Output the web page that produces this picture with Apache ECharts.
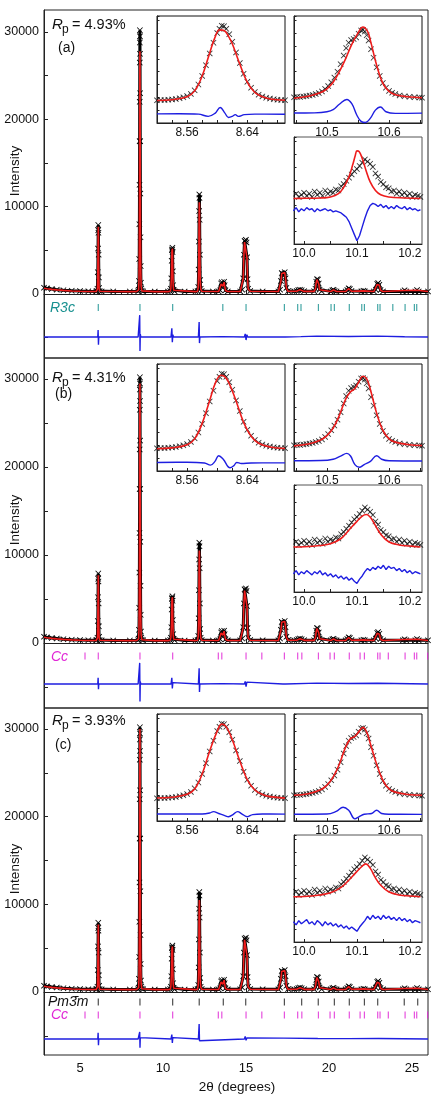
<!DOCTYPE html>
<html>
<head>
<meta charset="utf-8">
<script src="https://cdn.jsdelivr.net/npm/echarts@6/dist/echarts.min.js"></script>
<style>
  html, body { margin: 0; padding: 0; background: #fff; }
  #chart { width: 432px; height: 1102px; }
</style>
</head>
<body>
<div id="chart"></div>
<script>
// ---------- data: main patterns (2theta, counts) ----------
const obsMain = [[2.83,720],[3.0,650],[3.3,570],[3.6,500],[4.0,430],[4.5,370],[5.0,330],[5.5,310],[5.97,300],[6.02,330],[6.05,600],[6.07,2500],[6.085,5200],[6.095,7300],[6.1,7900],[6.11,7000],[6.12,4500],[6.135,1900],[6.15,700],[6.18,340],[6.3,300],[7.0,290],[8.0,285],[8.5,310],[8.53,500],[8.55,1500],[8.565,4000],[8.575,8000],[8.583,12500],[8.59,17500],[8.595,22000],[8.6,26500],[8.603,28800],[8.606,30200],[8.61,29500],[8.614,27500],[8.62,23000],[8.627,17500],[8.635,11500],[8.645,6500],[8.655,3200],[8.67,1300],[8.69,600],[8.72,380],[8.8,300],[9.5,280],[10.3,280],[10.43,330],[10.47,600],[10.5,1800],[10.52,3800],[10.535,5000],[10.55,5100],[10.565,5300],[10.575,4800],[10.59,2600],[10.61,1000],[10.64,450],[10.7,310],[11.3,280],[11.95,285],[12.08,330],[12.12,800],[12.145,2800],[12.16,6000],[12.175,9500],[12.185,11400],[12.195,11000],[12.205,8500],[12.22,4500],[12.24,1600],[12.27,600],[12.33,340],[13.0,290],[13.35,290],[13.45,420],[13.5,1200],[13.54,1350],[13.6,900],[13.64,1100],[13.68,1400],[13.71,1000],[13.76,420],[13.9,300],[14.65,300],[14.77,500],[14.83,1800],[14.87,4500],[14.91,6100],[14.95,6000],[14.99,6200],[15.03,5900],[15.06,4200],[15.09,1700],[15.13,600],[15.25,330],[16.0,300],[16.95,300],[17.05,500],[17.1,1500],[17.15,2400],[17.2,2300],[17.27,2200],[17.33,2500],[17.38,1800],[17.43,700],[17.53,330],[17.9,310],[18.05,330],[18.15,450],[18.25,500],[18.35,430],[18.5,320],[19.1,320],[19.18,600],[19.23,1400],[19.27,1700],[19.33,1650],[19.38,1200],[19.43,500],[19.55,320],[20.1,300],[20.2,420],[20.27,480],[20.34,350],[20.45,300],[21.0,300],[21.1,450],[21.18,650],[21.25,560],[21.35,330],[21.95,310],[22.07,380],[22.15,310],[22.7,300],[22.82,500],[22.9,1150],[22.96,1250],[23.03,1050],[23.1,450],[23.25,300],[24.45,300],[24.55,420],[24.65,300],[25.2,300],[25.3,450],[25.4,300],[25.96,300]];

// calculated profile, everything except the 110 peak (which differs per fit)
const calcBase = [[2.83,660],[3.0,600],[3.3,530],[3.6,470],[4.0,410],[4.5,350],[5.0,310],[5.5,290],[5.97,285],[6.02,310],[6.05,560],[6.07,2400],[6.085,5000],[6.095,7100],[6.102,7700],[6.11,6900],[6.12,4400],[6.135,1800],[6.15,650],[6.18,320],[6.3,285],[8.0,275],[8.4,280],[8.8,285],[9.5,270],[10.3,270],[10.43,310],[10.47,580],[10.5,1750],[10.52,3700],[10.535,4900],[10.55,5050],[10.565,5200],[10.575,4700],[10.59,2500],[10.61,950],[10.64,430],[10.7,290],[11.95,275],[12.08,310],[12.12,760],[12.145,2700],[12.16,5800],[12.175,9100],[12.187,10500],[12.195,10200],[12.205,8000],[12.22,4300],[12.24,1500],[12.27,560],[12.33,320],[13.35,280],[13.45,400],[13.5,1150],[13.54,1300],[13.6,880],[13.64,1060],[13.68,1350],[13.71,950],[13.76,400],[13.9,285],[14.65,285],[14.77,480],[14.83,1750],[14.87,4400],[14.91,5950],[14.95,5900],[14.99,6050],[15.03,5800],[15.06,4100],[15.09,1650],[15.13,570],[15.25,310],[16.95,285],[17.05,480],[17.1,1450],[17.15,2350],[17.2,2250],[17.27,2150],[17.33,2450],[17.38,1750],[17.43,680],[17.53,310],[18.05,310],[18.15,430],[18.25,480],[18.35,410],[18.5,300],[19.1,300],[19.18,580],[19.23,1350],[19.27,1650],[19.33,1600],[19.38,1150],[19.43,480],[19.55,300],[20.1,285],[20.2,400],[20.27,460],[20.34,330],[20.45,285],[21.0,285],[21.1,430],[21.18,620],[21.25,540],[21.35,310],[22.07,360],[22.7,285],[22.82,480],[22.9,1100],[22.96,1200],[23.03,1000],[23.1,430],[23.25,285],[24.55,400],[24.65,285],[25.3,430],[25.4,285],[25.96,285]];
const peak110A = [[8.5,290],[8.53,470],[8.55,1400],[8.565,3800],[8.575,7600],[8.585,13000],[8.595,20500],[8.603,26500],[8.607,27800],[8.612,26500],[8.62,21000],[8.63,13500],[8.645,6000],[8.66,2500],[8.68,900],[8.72,360]];
const peak110B = [[8.5,290],[8.53,480],[8.55,1450],[8.565,3900],[8.575,7800],[8.585,13500],[8.595,21500],[8.603,28000],[8.607,29500],[8.612,28000],[8.62,22000],[8.63,14000],[8.645,6200],[8.66,2600],[8.68,950],[8.72,370]];
const peak110C = [[8.5,300],[8.53,490],[8.55,1480],[8.565,3950],[8.575,7900],[8.585,13800],[8.595,22000],[8.603,28600],[8.607,30000],[8.612,28600],[8.62,22500],[8.63,14300],[8.645,6300],[8.66,2650],[8.68,980],[8.72,375]];

// difference curves (offset below zero as in the figure)
const diffA = [[2.83,-4924],[4,-4930],[5.9,-4920],[6.07,-4910],[6.09,-4120],[6.11,-5820],[6.13,-4930],[7.5,-4915],[8.5,-4925],[8.57,-4700],[8.595,-2420],[8.612,-6520],[8.63,-4600],[8.66,-4920],[9.5,-4930],[10.48,-4920],[10.53,-3920],[10.56,-5520],[10.59,-4650],[10.63,-4925],[11.3,-4915],[12.13,-4925],[12.175,-3220],[12.195,-5620],[12.22,-4930],[13.55,-4880],[13.65,-5000],[14.9,-4920],[14.95,-4570],[15.0,-5270],[15.05,-4650],[15.1,-4920],[16.0,-4930],[17.22,-4920],[17.27,-4720],[17.32,-5120],[17.37,-4925],[18.3,-4880],[18.35,-4960],[19.27,-4820],[19.32,-5040],[19.37,-4925],[21.18,-4860],[21.23,-4980],[22.93,-4820],[22.98,-5030],[23.03,-4925],[24.55,-4900],[25.96,-4920]];
const diffB = [[2.83,-4660],[5.9,-4655],[6.07,-4660],[6.09,-3960],[6.11,-5260],[6.13,-4660],[8.5,-4660],[8.57,-4450],[8.595,-2260],[8.612,-6660],[8.63,-4400],[8.66,-4660],[10.48,-4660],[10.53,-3960],[10.56,-5160],[10.59,-4500],[10.63,-4660],[12.13,-4660],[12.175,-2860],[12.195,-5560],[12.22,-4660],[13.55,-4620],[13.65,-4720],[14.9,-4660],[14.95,-4360],[15.0,-4960],[15.05,-4450],[15.1,-4660],[17.22,-4660],[17.27,-4510],[17.32,-4810],[17.37,-4660],[19.27,-4560],[19.32,-4760],[21.18,-4600],[21.23,-4700],[22.93,-4580],[22.98,-4760],[25.96,-4660]];
const diffC = [[2.83,-5360],[5.9,-5360],[6.07,-5360],[6.09,-4660],[6.11,-6060],[6.13,-5360],[8.5,-5360],[8.58,-5200],[8.595,-4560],[8.612,-6360],[8.63,-5200],[8.66,-5360],[10.48,-5360],[10.53,-4860],[10.56,-5810],[10.59,-5200],[10.63,-5360],[12.13,-5360],[12.175,-3660],[12.195,-5560],[12.22,-5360],[14.9,-5360],[14.95,-5060],[15.0,-5510],[15.05,-5250],[15.1,-5360],[17.27,-5260],[17.32,-5420],[19.32,-5300],[21.18,-5320],[22.98,-5300],[25.96,-5360]];

// reflection positions
const ticksR3c = [6.10, 8.61, 10.58, 13.6, 15.0, 17.31, 18.11, 18.31, 19.36, 20.12, 20.32, 21.22, 21.97, 22.13, 22.93, 23.07, 23.84, 24.58, 25.14, 25.28];
const ticksCc = [5.3, 6.10, 8.61, 10.58, 13.33, 13.54, 15.0, 15.95, 17.31, 18.11, 18.36, 19.36, 20.06, 20.32, 21.22, 21.87, 22.13, 22.93, 23.07, 23.57, 24.58, 25.14, 25.28, 25.94];
const ticksPm3m = [6.10, 8.61, 10.58, 12.18, 13.63, 14.98, 17.31, 18.35, 19.35, 20.32, 21.22, 22.13, 22.93, 24.53, 25.34];

const mainXTicks = [5, 7.5, 10, 12.5, 15, 17.5, 20, 22.5, 25];
const mainXLabels = [5, 10, 15, 20, 25];
const mainYTicks = [-5000, 0, 5000, 10000, 15000, 20000, 25000, 30000];
const mainYLabels = [0, 10000, 20000, 30000];
const rpValues = ['4.93%', '4.31%', '3.93%'];

// ---------- data: insets (2theta, normalised height) ----------
const obs110 = [[8.520,0.212],[8.525,0.215],[8.530,0.214],[8.535,0.218],[8.540,0.22],[8.545,0.224],[8.550,0.232],[8.555,0.24],[8.560,0.252],[8.565,0.272],[8.570,0.305],[8.575,0.36],[8.580,0.44],[8.585,0.54],[8.590,0.65],[8.595,0.75],[8.600,0.84],[8.603,0.88],[8.606,0.91],[8.609,0.905],[8.612,0.88],[8.616,0.83],[8.620,0.76],[8.625,0.66],[8.630,0.56],[8.635,0.46],[8.640,0.385],[8.645,0.33],[8.650,0.29],[8.655,0.265],[8.660,0.248],[8.665,0.236],[8.670,0.228],[8.675,0.222],[8.680,0.218],[8.685,0.215],[8.690,0.213]];
const obs111 = [[10.447,0.24],[10.452,0.245],[10.457,0.243],[10.462,0.248],[10.467,0.252],[10.472,0.256],[10.477,0.262],[10.482,0.27],[10.487,0.28],[10.492,0.295],[10.497,0.318],[10.502,0.345],[10.507,0.38],[10.512,0.425],[10.517,0.48],[10.522,0.55],[10.527,0.63],[10.531,0.7],[10.535,0.75],[10.539,0.775],[10.543,0.785],[10.547,0.8],[10.551,0.835],[10.555,0.865],[10.558,0.87],[10.561,0.855],[10.564,0.82],[10.567,0.77],[10.571,0.69],[10.575,0.61],[10.58,0.52],[10.585,0.44],[10.59,0.375],[10.595,0.33],[10.6,0.3],[10.605,0.283],[10.61,0.27],[10.617,0.258],[10.625,0.25],[10.633,0.245],[10.641,0.241],[10.649,0.238],[10.653,0.237]];
const obs311 = [[9.98,0.45],[9.985,0.47],[9.99,0.44],[9.995,0.46],[10.0,0.48],[10.005,0.45],[10.01,0.47],[10.015,0.44],[10.02,0.49],[10.025,0.46],[10.03,0.48],[10.035,0.45],[10.04,0.5],[10.045,0.47],[10.05,0.49],[10.055,0.48],[10.06,0.51],[10.065,0.5],[10.07,0.54],[10.075,0.56],[10.08,0.59],[10.085,0.62],[10.09,0.65],[10.095,0.68],[10.1,0.7],[10.105,0.73],[10.11,0.76],[10.115,0.79],[10.12,0.77],[10.125,0.75],[10.13,0.72],[10.135,0.66],[10.14,0.63],[10.145,0.58],[10.15,0.56],[10.155,0.53],[10.16,0.52],[10.165,0.49],[10.17,0.5],[10.175,0.47],[10.18,0.49],[10.185,0.46],[10.19,0.48],[10.195,0.45],[10.2,0.47],[10.205,0.44],[10.21,0.46],[10.215,0.45],[10.22,0.44]];

const calc110A = [[8.52,0.21],[8.54,0.218],[8.56,0.245],[8.57,0.30],[8.58,0.44],[8.59,0.655],[8.597,0.8],[8.603,0.87],[8.609,0.865],[8.615,0.81],[8.62,0.74],[8.63,0.55],[8.64,0.38],[8.65,0.285],[8.66,0.245],[8.67,0.225],[8.69,0.212]];
const calc110B = [[8.52,0.208],[8.54,0.216],[8.56,0.245],[8.57,0.30],[8.58,0.445],[8.59,0.66],[8.598,0.83],[8.605,0.895],[8.611,0.875],[8.617,0.8],[8.625,0.655],[8.635,0.455],[8.645,0.325],[8.655,0.26],[8.67,0.225],[8.69,0.21]];
const calc110C = [[8.52,0.215],[8.54,0.222],[8.56,0.25],[8.57,0.30],[8.58,0.44],[8.59,0.655],[8.6,0.84],[8.606,0.905],[8.612,0.88],[8.62,0.76],[8.63,0.56],[8.64,0.385],[8.65,0.29],[8.66,0.248],[8.67,0.228],[8.69,0.214]];
const calc111A = [[10.447,0.232],[10.47,0.25],[10.49,0.285],[10.5,0.32],[10.51,0.38],[10.52,0.48],[10.53,0.6],[10.54,0.735],[10.55,0.84],[10.558,0.897],[10.565,0.86],[10.57,0.77],[10.58,0.54],[10.59,0.37],[10.6,0.295],[10.61,0.265],[10.63,0.245],[10.653,0.236]];
const calc111B = [[10.447,0.235],[10.47,0.252],[10.49,0.29],[10.5,0.33],[10.51,0.4],[10.52,0.52],[10.53,0.67],[10.538,0.74],[10.545,0.77],[10.552,0.84],[10.558,0.885],[10.564,0.86],[10.57,0.76],[10.58,0.54],[10.59,0.38],[10.6,0.3],[10.61,0.27],[10.63,0.248],[10.653,0.238]];
const calc111C = [[10.447,0.24],[10.47,0.255],[10.49,0.292],[10.5,0.335],[10.51,0.41],[10.52,0.53],[10.53,0.69],[10.538,0.77],[10.545,0.79],[10.552,0.84],[10.558,0.875],[10.564,0.83],[10.57,0.72],[10.58,0.53],[10.59,0.38],[10.6,0.3],[10.61,0.27],[10.63,0.248],[10.653,0.24]];
const calc311A = [[9.98,0.425],[10.0,0.427],[10.03,0.43],[10.05,0.44],[10.065,0.47],[10.075,0.53],[10.085,0.63],[10.092,0.74],[10.097,0.83],[10.1,0.87],[10.104,0.865],[10.11,0.8],[10.117,0.69],[10.125,0.58],[10.135,0.5],[10.145,0.46],[10.16,0.44],[10.19,0.43],[10.22,0.425]];
const calc311B = [[9.98,0.42],[10.0,0.423],[10.03,0.435],[10.05,0.45],[10.07,0.5],[10.085,0.58],[10.1,0.66],[10.11,0.71],[10.118,0.725],[10.125,0.7],[10.135,0.62],[10.145,0.54],[10.16,0.47],[10.18,0.44],[10.2,0.43],[10.22,0.42]];
const calc311C = [[9.98,0.423],[10.0,0.425],[10.03,0.44],[10.05,0.46],[10.07,0.51],[10.085,0.58],[10.1,0.66],[10.11,0.71],[10.117,0.73],[10.125,0.69],[10.135,0.6],[10.145,0.53],[10.16,0.47],[10.18,0.44],[10.2,0.43],[10.22,0.423]];

const diff110A = [[8.52,0.085],[8.55,0.087],[8.575,0.083],[8.588,0.062],[8.597,0.09],[8.604,0.145],[8.61,0.095],[8.615,0.052],[8.62,0.062],[8.624,0.078],[8.628,0.062],[8.636,0.078],[8.65,0.083],[8.69,0.082]];
const diff110B = [[8.52,0.08],[8.56,0.082],[8.583,0.075],[8.591,0.055],[8.597,0.09],[8.602,0.143],[8.608,0.11],[8.617,0.03],[8.622,0.05],[8.626,0.08],[8.632,0.07],[8.645,0.075],[8.69,0.076]];
const diff110C = [[8.52,0.065],[8.58,0.066],[8.59,0.075],[8.595,0.088],[8.602,0.07],[8.61,0.05],[8.615,0.04],[8.621,0.06],[8.627,0.088],[8.633,0.065],[8.64,0.04],[8.647,0.06],[8.66,0.065],[8.69,0.064]];
const diff111A = [[10.447,0.093],[10.48,0.095],[10.5,0.105],[10.51,0.125],[10.52,0.175],[10.532,0.22],[10.54,0.18],[10.548,0.075],[10.555,0.015],[10.562,0.005],[10.57,0.045],[10.578,0.12],[10.586,0.15],[10.595,0.105],[10.61,0.09],[10.653,0.092]];
const diff111B = [[10.447,0.096],[10.49,0.098],[10.51,0.11],[10.522,0.14],[10.532,0.165],[10.538,0.14],[10.545,0.06],[10.552,0.035],[10.56,0.06],[10.57,0.09],[10.58,0.143],[10.588,0.11],[10.6,0.096],[10.653,0.094]];
const diff111C = [[10.447,0.063],[10.5,0.065],[10.515,0.09],[10.526,0.128],[10.535,0.1],[10.545,0.02],[10.552,0.04],[10.56,0.063],[10.572,0.07],[10.58,0.1],[10.588,0.07],[10.6,0.063],[10.653,0.062]];
const diff311A = [[9.98,0.31],[9.985,0.34],[9.99,0.3],[9.995,0.33],[10.0,0.31],[10.005,0.34],[10.01,0.32],[10.015,0.33],[10.02,0.3],[10.025,0.33],[10.03,0.31],[10.035,0.32],[10.04,0.33],[10.045,0.31],[10.05,0.32],[10.055,0.3],[10.06,0.31],[10.065,0.3],[10.07,0.29],[10.075,0.27],[10.08,0.25],[10.085,0.21],[10.09,0.15],[10.095,0.09],[10.1,0.03],[10.105,0.08],[10.11,0.16],[10.115,0.24],[10.12,0.31],[10.125,0.36],[10.13,0.38],[10.135,0.37],[10.14,0.35],[10.145,0.37],[10.15,0.34],[10.155,0.36],[10.16,0.33],[10.165,0.35],[10.17,0.33],[10.175,0.36],[10.18,0.34],[10.185,0.33],[10.19,0.35],[10.195,0.32],[10.2,0.34],[10.205,0.32],[10.21,0.33],[10.215,0.31],[10.22,0.32]];
const diff311B = [[9.98,0.17],[9.985,0.2],[9.99,0.16],[9.995,0.19],[10.0,0.17],[10.005,0.2],[10.01,0.18],[10.015,0.16],[10.02,0.19],[10.025,0.17],[10.03,0.2],[10.035,0.16],[10.04,0.18],[10.045,0.15],[10.05,0.17],[10.055,0.14],[10.06,0.16],[10.065,0.13],[10.07,0.15],[10.075,0.12],[10.08,0.14],[10.085,0.11],[10.09,0.13],[10.095,0.1],[10.1,0.08],[10.105,0.12],[10.11,0.15],[10.115,0.19],[10.12,0.22],[10.125,0.2],[10.13,0.23],[10.135,0.21],[10.14,0.24],[10.145,0.22],[10.15,0.25],[10.155,0.21],[10.16,0.24],[10.165,0.22],[10.17,0.23],[10.175,0.2],[10.18,0.22],[10.185,0.19],[10.19,0.21],[10.195,0.18],[10.2,0.2],[10.205,0.17],[10.21,0.19],[10.215,0.18],[10.22,0.17]];
const diff311C = [[9.98,0.19],[9.985,0.16],[9.99,0.2],[9.995,0.17],[10.0,0.19],[10.005,0.21],[10.01,0.17],[10.015,0.19],[10.02,0.16],[10.025,0.2],[10.03,0.18],[10.035,0.15],[10.04,0.19],[10.045,0.16],[10.05,0.18],[10.055,0.15],[10.06,0.17],[10.065,0.14],[10.07,0.16],[10.075,0.13],[10.08,0.15],[10.085,0.12],[10.09,0.14],[10.095,0.12],[10.1,0.1],[10.105,0.14],[10.11,0.17],[10.115,0.2],[10.12,0.24],[10.125,0.21],[10.13,0.25],[10.135,0.22],[10.14,0.24],[10.145,0.21],[10.15,0.25],[10.155,0.22],[10.16,0.24],[10.165,0.21],[10.17,0.23],[10.175,0.2],[10.18,0.23],[10.185,0.2],[10.19,0.22],[10.195,0.19],[10.2,0.21],[10.205,0.18],[10.21,0.2],[10.215,0.19],[10.22,0.18]];

const tk110A = [8.623];
const tk111A = [10.522, 10.557];
const tk311A = [10.106];
const tk110B = [8.596, 8.614, 8.632];
const tk111B = [10.526];
const tk311B = [10.092, 10.099, 10.107, 10.118];
const tk110C = [8.595, 8.615];
const tk110Cp = [8.635];
const tk111C = [10.526, 10.538, 10.564];
const tk111Cp = [10.538];
const tk311C = [10.09, 10.098, 10.106, 10.118];

const insetRange = [[8.52, 8.69], [10.447, 10.653], [9.981, 10.223]];
const insetLabels = [[8.56, 8.64], [10.5, 10.6], [10.0, 10.1, 10.2]];
const insetTickVals = [[8.54, 8.56, 8.58, 8.6, 8.62, 8.64, 8.66, 8.68], [10.45, 10.5, 10.55, 10.6, 10.65], [10.0, 10.05, 10.1, 10.15, 10.2]];
const insetNames = ['110', '111', '1/2(311)'];

// ---------- layout / style ----------
const FONT = '"Liberation Sans", Arial, sans-serif';
const RED = '#ee1c1c', BLUE = '#1e1ee0', TEAL = '#17908f', MAG = '#e026d6', GREY = '#8a8a8a';
const CROSS = 'path://M0,1L1,0L5,4L9,0L10,1L6,5L10,9L9,10L5,6L1,10L0,9L4,5Z';
const panelTop = [10, 358, 708];
const panelH = [348, 350, 347];
const yRange = [[-7328, 32519], [-7386, 32386], [-7186, 32395]];
const insetLeft = [157, 294, 294];
const insetDy = [6, 6, 127];

const panels = [
  { peak: peak110A, diff: diffA, rows: [{ x: ticksR3c, y: -1546, c: TEAL }],
    calc: [calc110A, calc111A, calc311A], idiff: [diff110A, diff111A, diff311A],
    itk: [[{ x: tk110A, y: 0.2, c: TEAL }], [{ x: tk111A, y: 0.25, c: TEAL }], [{ x: tk311A, y: 0.38, c: TEAL }]] },
  { peak: peak110B, diff: diffB, rows: [{ x: ticksCc, y: -1477, c: MAG }],
    calc: [calc110B, calc111B, calc311B], idiff: [diff110B, diff111B, diff311B],
    itk: [[{ x: tk110B, y: 0.165, c: MAG }], [{ x: tk111B, y: 0.24, c: MAG }], [{ x: tk311B, y: 0.35, c: MAG }]] },
  { peak: peak110C, diff: diffC, rows: [{ x: ticksPm3m, y: -1141, c: '#222' }, { x: ticksCc, y: -2624, c: MAG }],
    calc: [calc110C, calc111C, calc311C], idiff: [diff110C, diff111C, diff311C],
    itk: [[{ x: tk110C, y: 0.14, c: MAG }, { x: tk110Cp, y: 0.14, c: GREY }],
          [{ x: tk111C, y: 0.195, c: MAG }, { x: tk111Cp, y: 0.295, c: GREY }],
          [{ x: tk311C, y: 0.385, c: MAG }]] }
];

const grids = [], xAxes = [], yAxes = [], series = [], graphics = [];

function addGrid(g, xa, ya) {
  const i = grids.length;
  grids.push(Object.assign({ outerBoundsMode: 'none', containLabel: false }, g));
  xAxes.push(Object.assign({ gridIndex: i }, xa));
  yAxes.push(Object.assign({ gridIndex: i }, ya));
  return i;
}

function text(str, x, y, size, opt) {
  opt = opt || {};
  graphics.push({
    type: 'text', x: x, y: y, rotation: opt.rot || 0, silent: true,
    style: {
      text: str, fill: opt.color || '#111',
      font: (opt.italic ? 'italic ' : '') + size + 'px ' + FONT,
      textAlign: opt.align || 'left', textVerticalAlign: 'middle',
      align: opt.align || 'left', verticalAlign: 'middle'
    }
  });
}

function tickRow(gi, row, h) {
  series.push({
    type: 'scatter', xAxisIndex: gi, yAxisIndex: gi, silent: true, z: 4,
    data: row.x.map(v => [v, row.y]), symbol: 'rect', symbolSize: [1.2, h],
    itemStyle: { color: row.c }
  });
}

const axisLine = { show: true, lineStyle: { color: '#222', width: 1 } };

panels.forEach((p, k) => {
  const top = panelTop[k];
  // ---- main panel ----
  const gi = addGrid(
    { left: 44, top: top, width: 384, height: panelH[k], show: true, borderColor: '#222', borderWidth: 1 },
    { type: 'value', min: 2.83, max: 25.96, axisLine: axisLine,
      axisTick: { inside: true, length: 4, customValues: mainXTicks, lineStyle: { color: '#222' } },
      axisLabel: { show: k === 2, customValues: mainXLabels, fontSize: 13, color: '#111', margin: 7, fontFamily: FONT },
      splitLine: { show: false } },
    { type: 'value', min: yRange[k][0], max: yRange[k][1], axisLine: axisLine,
      axisTick: { inside: true, length: 4, customValues: mainYTicks, lineStyle: { color: '#222' } },
      axisLabel: { customValues: mainYLabels, formatter: v => String(v), fontSize: 12.5, color: '#111', margin: 5, fontFamily: FONT },
      splitLine: { show: false } }
  );
  const calc = calcBase.concat(p.peak).sort((a, b) => a[0] - b[0]);
  series.push({ type: 'line', xAxisIndex: gi, yAxisIndex: gi, data: obsMain, silent: true, z: 2,
    symbol: CROSS, symbolSize: 6, showSymbol: true, itemStyle: { color: '#000' },
    lineStyle: { color: '#000', width: 3 } });
  series.push({ type: 'line', xAxisIndex: gi, yAxisIndex: gi, data: calc, silent: true, z: 3,
    symbol: 'none', lineStyle: { color: RED, width: 1.6 } });
  series.push({ type: 'line', xAxisIndex: gi, yAxisIndex: gi, data: p.diff, silent: true, z: 3,
    symbol: 'none', lineStyle: { color: BLUE, width: 1.4 } });
  p.rows.forEach(r => tickRow(gi, r, 7));

  // ---- insets ----
  for (let j = 0; j < 3; j++) {
    const ii = addGrid(
      { left: insetLeft[j], top: top + insetDy[j], width: 128, height: 107, show: true,
        borderColor: j === 2 ? '#555' : '#111', borderWidth: 1, backgroundColor: '#fff', z: 5 },
      { type: 'value', min: insetRange[j][0], max: insetRange[j][1], axisLine: axisLine, z: 5,
        axisTick: { inside: true, length: 3, customValues: insetTickVals[j], lineStyle: { color: '#222' } },
        axisLabel: { customValues: insetLabels[j], formatter: v => v.toFixed(j === 0 ? 2 : 1),
          fontSize: 12, color: '#111', margin: 4, fontFamily: FONT },
        splitLine: { show: false } },
      { type: 'value', min: 0, max: 1, interval: 0.12, axisLine: axisLine, z: 5,
        axisTick: { inside: true, length: 2.5, lineStyle: { color: '#222' } },
        axisLabel: { show: false }, splitLine: { show: false } }
    );
    const obs = [obs110, obs111, obs311][j];
    series.push({ type: 'scatter', xAxisIndex: ii, yAxisIndex: ii, data: obs, silent: true, z: 6,
      symbol: CROSS, symbolSize: 6, itemStyle: { color: '#000' } });
    series.push({ type: 'line', xAxisIndex: ii, yAxisIndex: ii, data: p.calc[j], silent: true, z: 7,
      smooth: 0.4, symbol: 'none', lineStyle: { color: RED, width: 1.6 } });
    series.push({ type: 'line', xAxisIndex: ii, yAxisIndex: ii, data: p.idiff[j], silent: true, z: 7,
      smooth: j === 2 ? false : 0.4, symbol: 'none', lineStyle: { color: BLUE, width: 1.4 } });
    p.itk[j].forEach(r => tickRow(ii, r, 6));
    text(insetNames[j], insetLeft[j] + 3, top + insetDy[j] + 9, 12);
  }

  // ---- panel texts ----
  const rpY = [25, 378, 721][k];
  text('R', 52, rpY, 15, { italic: true });
  text('p', 62, rpY + 5, 12);
  text('= ' + rpValues[k], 72, rpY, 14.5);
  text(['(a)', '(b)', '(c)'][k], [58, 55, 55][k], [48, 394, 745][k], 14);
  text('Intensity', 15, [171, 520, 869][k], 13.5, { rot: Math.PI / 2, align: 'center' });
});

text('R3c', 50, 308, 14, { italic: true, color: TEAL });
text('Cc', 51, 657, 14, { italic: true, color: MAG });
text('Pm3\u0304m', 48, 1002, 14, { italic: true, color: '#111' });
text('Cc', 51, 1015, 14, { italic: true, color: MAG });
text('2\u03b8 (degrees)', 237, 1087, 13.5, { align: 'center' });

const chart = echarts.init(document.getElementById('chart'));
chart.setOption({
  animation: false,
  backgroundColor: '#fff',
  grid: grids,
  xAxis: xAxes,
  yAxis: yAxes,
  series: series,
  graphic: graphics
});
</script>
</body>
</html>
